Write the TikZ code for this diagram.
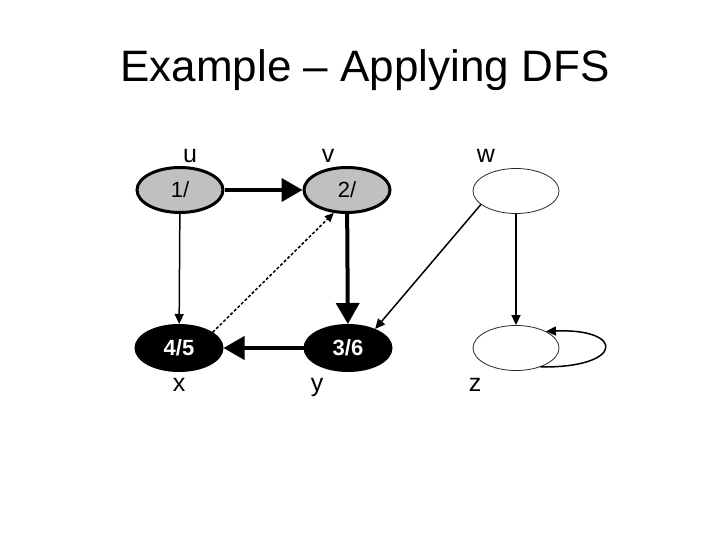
\documentclass[tikz,border=0pt]{standalone}
\usepackage{fontspec}
\setmainfont{Liberation Sans}
\usetikzlibrary{shapes.geometric,arrows.meta}
\begin{document}
\begin{tikzpicture}[x=1pt,y=-1pt,
  vtx/.style={ellipse, minimum width=86pt, minimum height=45pt, inner sep=0pt, font=\fontsize{22}{22}\selectfont},
  gray vtx/.style={vtx, draw=black, line width=3pt, fill={rgb,255:red,192;green,192;blue,192}},
  black vtx/.style={vtx, draw=black, line width=3pt, fill=black, text=white, font=\fontsize{22}{22}\selectfont\bfseries},
  white vtx/.style={vtx, draw={rgb,255:red,40;green,40;blue,40}, line width=0.8pt, fill=white},
  lbl/.style={anchor=base, inner sep=0pt, font=\fontsize{25}{25}\selectfont},
  bigedge/.style={line width=4pt, -{Triangle[length=21pt,width=23pt]}},
  thinedge/.style={line width=1.5pt, -{Triangle[length=10pt,width=9pt]}},
  dashedge/.style={line width=1.5pt, dash pattern=on 3pt off 2pt, -{Triangle[length=9pt,width=8pt]}}
]
\useasboundingbox (0,0) rectangle (720,540);
\node[font=\fontsize{44}{44}\selectfont] (title) at (365,70) {Example – Applying DFS};

\node[gray vtx] (u) at (180,190) {1/};
\node[gray vtx] (v) at (347,190) {2/};
\node[white vtx] (w) at (516,191) {};
\node[black vtx] (x) at (179,348) {4/5};
\node[black vtx] (y) at (348,348) {3/6};
\node[white vtx] (z) at (516,348) {};

\node[lbl] (lu) at (190,163) {u};
\node[lbl] (lv) at (328,163) {v};
\node[lbl] (lw) at (486,163) {w};
\node[lbl] (lx) at (179,391) {x};
\node[lbl] (ly) at (317,391) {y};
\node[lbl] (lz) at (475,391) {z};

\draw[bigedge] (u) -- (v);
\draw[bigedge] (v) -- (y);
\draw[bigedge] (y) -- (x);
\draw[thinedge] (u) -- (x);
\draw[thinedge] (w) -- (z);
\draw[thinedge] (w.201) -- (y.35);
\draw[dashedge] (x.25) -- (v.240);
\draw[thinedge] (z.322) .. controls (625,368) and (625,328) .. (z.29);
\end{tikzpicture}
\end{document}
